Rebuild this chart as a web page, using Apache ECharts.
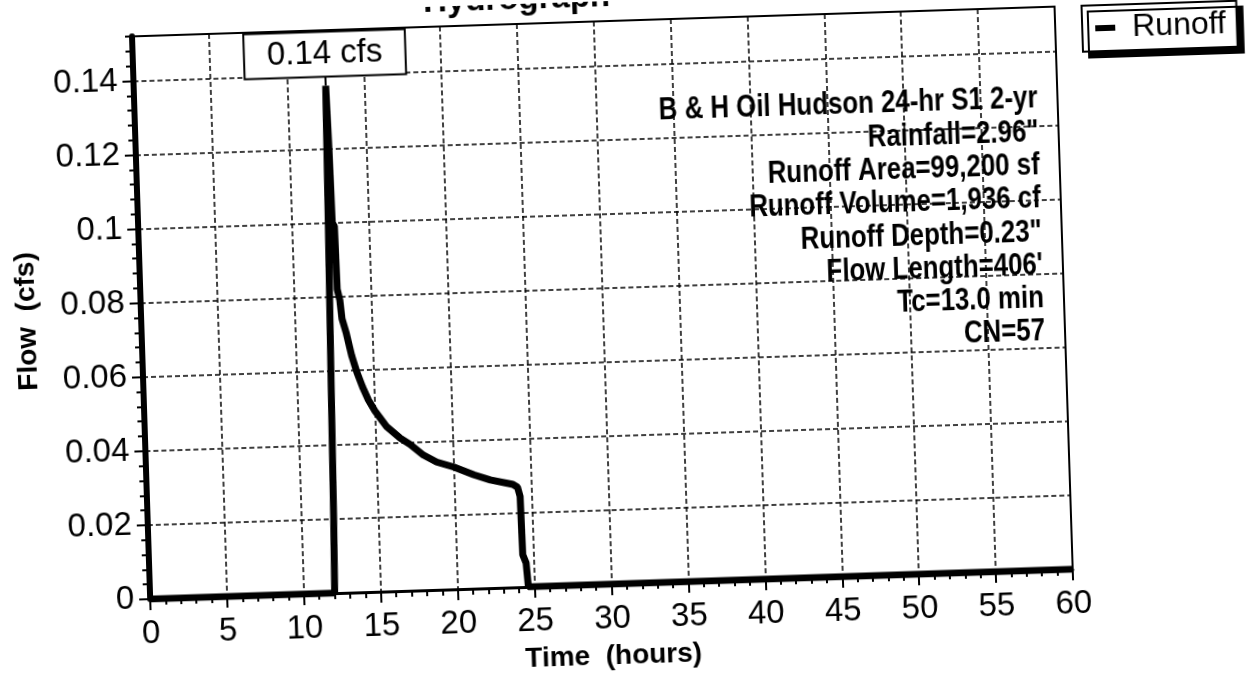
<!DOCTYPE html>
<html>
<head>
<meta charset="utf-8">
<title>Hydrograph</title>
<script src="https://cdn.jsdelivr.net/npm/echarts@6/dist/echarts.min.js"></script>
<style>
  html, body { margin: 0; padding: 0; background: #fff; overflow: hidden; width: 1251px; height: 675px; }
  /* the scanned sheet is tilted a little, so the whole chart is turned the same way.
     the div is a bit wider than the page so the legend shadow is not cut off */
  .chart { width: 1291px; height: 675px; transform: rotate(-1.85deg); transform-origin: 50% 50%; }
</style>
</head>
<body>
<div class="chart"></div>
<script>
// runoff hydrograph
var timeHours = [0, 12.0, 12.09, 12.22, 12.36, 12.48, 12.56, 12.62, 12.75, 12.8, 12.95, 13.05, 13.3, 13.6, 13.9,
  14.25, 14.6, 15.0, 15.7, 16.6, 17.2, 18.05, 18.9, 20.0, 21.3, 22.35, 23.8, 24.1, 24.25, 24.3, 24.5, 24.6, 60];
var runoffCfs = [0, 0, 0.02, 0.06, 0.1, 0.137, 0.12, 0.1, 0.099, 0.082, 0.079, 0.074, 0.07, 0.064, 0.0595,
  0.0553, 0.0518, 0.0488, 0.0446, 0.0412, 0.0395, 0.0365, 0.0345, 0.033, 0.0307, 0.0292, 0.0278, 0.027, 0.0245, 0.0087, 0.0065, 0, 0];

var infoLines = [
  'B & H Oil Hudson 24-hr S1 2-yr',
  'Rainfall=2.96"',
  'Runoff Area=99,200 sf',
  'Runoff Volume=1,936 cf',
  'Runoff Depth=0.23"',
  "Flow Length=406'",
  'Tc=13.0 min',
  'CN=57'
];

(function () {
  var FONT = '"Liberation Sans", Arial, sans-serif';
  var myChart = echarts.init(document.querySelector('.chart'));

  var points = [];
  var peakIdx = 0;
  for (var i = 0; i < timeHours.length; ++i) {
    points.push([timeHours[i], runoffCfs[i]]);
    if (runoffCfs[i] > runoffCfs[peakIdx]) peakIdx = i;
  }

  var dashed = { color: '#000', width: 1.5, type: [5, 3] };

  var option = {
    animation: false,
    backgroundColor: '#fff',
    textStyle: { fontFamily: FONT, color: '#000' },
    title: {
      text: 'Hydrograph',
      left: 434,
      top: -21,
      padding: 0,
      textStyle: { fontSize: 33, fontWeight: 'bold', color: '#000', fontFamily: FONT }
    },
    legend: {
      data: ['Runoff'],
      left: 1092,
      top: 20,
      icon: 'rect',
      itemWidth: 20,
      itemHeight: 6,
      padding: [7, 11, 7, 13],
      backgroundColor: '#fff',
      borderColor: '#000',
      borderWidth: 2,
      shadowColor: '#000',
      shadowOffsetX: 6,
      shadowOffsetY: 6,
      shadowBlur: 0,
      textStyle: { fontSize: 32, color: '#000', fontFamily: FONT, padding: [0, 0, 0, 12] }
    },
    grid: {
      left: 142, right: 226, top: 20, bottom: 92,
      show: true, borderColor: '#000', borderWidth: 2,
      containLabel: false, outerBoundsMode: 'none'
    },
    xAxis: {
      type: 'value', min: 0, max: 60, interval: 5,
      name: 'Time  (hours)', nameLocation: 'middle', nameGap: 58,
      nameTextStyle: { fontSize: 28, fontWeight: 'bold', color: '#000', fontFamily: FONT },
      axisLine: { show: true, onZero: false, lineStyle: { color: '#000', width: 3 } },
      axisTick: { show: true, length: 11, lineStyle: { color: '#000', width: 2 } },
      minorTick: { show: true, splitNumber: 5, length: 6, lineStyle: { color: '#000', width: 2 } },
      axisLabel: { fontSize: 33, color: '#000', margin: 18, fontFamily: FONT },
      splitLine: { show: true, lineStyle: dashed }
    },
    yAxis: [{
      type: 'value', min: 0, max: 0.152, interval: 0.02,
      name: 'Flow  (cfs)', nameLocation: 'middle', nameGap: 100,
      nameTextStyle: { fontSize: 28, fontWeight: 'bold', color: '#000', fontFamily: FONT },
      axisLine: { show: true, onZero: false, lineStyle: { color: '#000', width: 6 } },
      axisTick: { show: true, length: 11, lineStyle: { color: '#000', width: 2 } },
      axisLabel: {
        fontSize: 33, color: '#000', margin: 16, fontFamily: FONT, showMaxLabel: false,
        formatter: function (v) { return String(+v.toFixed(3)); }
      },
      splitLine: { show: true, lineStyle: dashed }
    }, {
      // only the small ticks every 0.004
      type: 'value', min: 0, max: 0.152, interval: 0.004, position: 'left',
      axisLine: { show: false },
      axisTick: { show: true, length: 7, lineStyle: { color: '#000', width: 2 } },
      axisLabel: { show: false },
      splitLine: { show: false }
    }],
    graphic: [{
      // the scan uses a narrow bold face, so squeeze the text sideways
      type: 'text',
      right: 246,
      top: 95,
      scaleX: 0.82,
      style: {
        text: infoLines.join('\n'),
        font: 'bold 31.5px "Liberation Sans", Arial, sans-serif',
        textAlign: 'right',
        align: 'right',
        lineHeight: 33.3,
        fill: '#000'
      }
    }],
    series: [{
      name: 'Runoff',
      type: 'line',
      data: points,
      showSymbol: false,
      symbol: 'none',
      lineStyle: { color: '#000', width: 7 },
      itemStyle: { color: '#000' },
      markPoint: {
        symbol: 'rect',
        symbolSize: [2, 10],
        symbolOffset: [0, -5],
        itemStyle: { color: '#000' },
        label: {
          show: true, position: 'top', distance: 0,
          formatter: runoffCfs[peakIdx].toFixed(2) + ' cfs',
          fontSize: 33, color: '#000', fontFamily: FONT,
          backgroundColor: '#fff', borderColor: '#000', borderWidth: 2, padding: [5, 22]
        },
        data: [{ coord: [timeHours[peakIdx], runoffCfs[peakIdx]], value: runoffCfs[peakIdx] }]
      }
    }]
  };

  myChart.setOption(option);

  window.addEventListener('resize', function () {
    myChart.resize();
  });
})();
</script>
</body>
</html>
